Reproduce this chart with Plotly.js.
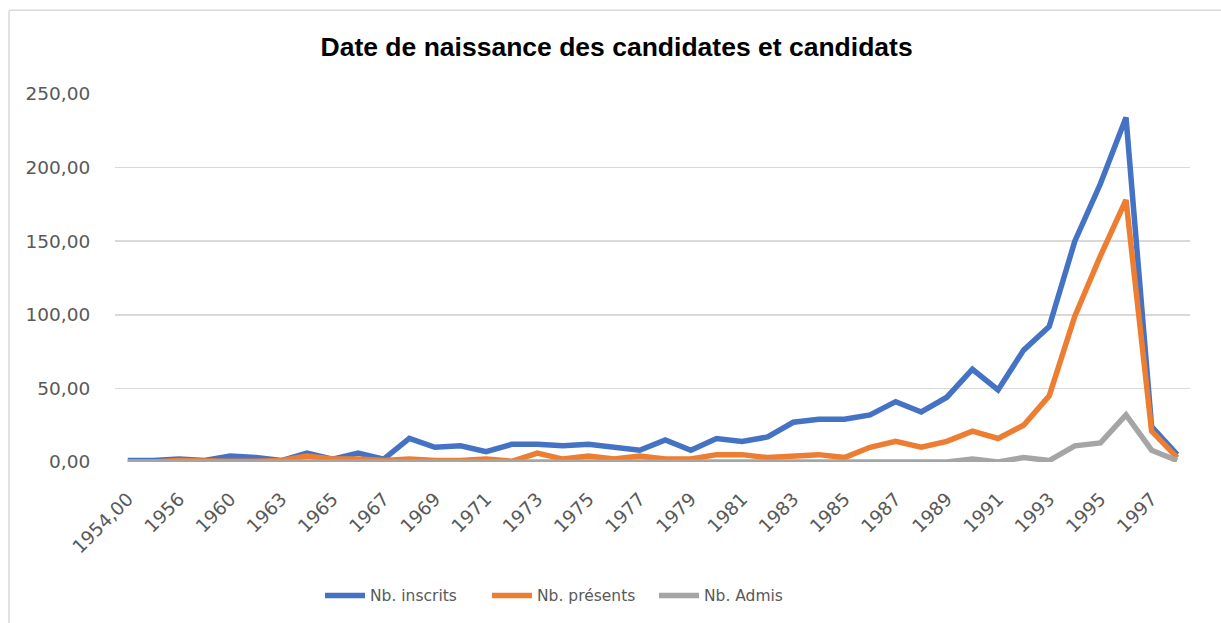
<!DOCTYPE html>
<html>
<head>
<meta charset="utf-8">
<script src="https://cdn.plot.ly/plotly-3.0.1.min.js"></script>
<style>html,body{margin:0;padding:0;background:#fff;}#chart{width:1221px;height:623px;}</style>
</head>
<body>
<div id="chart"></div>
<script>
const categories = ["1954,00","1955","1956","1958","1960","1962","1963","1964","1965","1966","1967","1968","1969","1970","1971","1972","1973","1974","1975","1976","1977","1978","1979","1980","1981","1982","1983","1984","1985","1986","1987","1988","1989","1990","1991","1992","1993","1994","1995","1996","1997","1998"];
const tickLabels = categories.filter((c, i) => i % 2 === 0);
const inscrits = [1,1,2,1,4,3,1,6,2,6,2,16,10,11,7,12,12,11,12,10,8,15,8,16,14,17,27,29,29,32,41,34,44,63,49,76,92,150,189,234,24,5];
const presents = [0,0,1,0.5,0.5,0.5,1,4,2,2,1,2,1,1,2,0.5,6,2,4,2,4,2,2,5,5,3,4,5,3,10,14,10,14,21,16,25,45,99,140,178,21,3];
const admis = [0,0,0,0,0,0,0,0,0,0,0,0,0,0,0,0,0,0,0,0,0,0,0,0.5,0,0,0,0.5,0,0,0,0,0,2,0,3,1,11,13,32,8,1];
const yTickVals = [0,50,100,150,200,250];
const yTickText = ['0,00','50,00','100,00','150,00','200,00','250,00'];

const mk = (name, y, color) => ({
  type: 'scatter', mode: 'lines', name: name, x: categories, y: y,
  line: {color: color, width: 5.5, shape: 'linear'}
});

const data = [
  mk('Nb. inscrits', inscrits, '#4472C4'),
  mk('Nb. présents', presents, '#ED7D31'),
  mk('Nb. Admis', admis, '#A5A5A5')
];

const layout = {
  width: 1221, height: 623,
  margin: {l: 115, r: 31, t: 94, b: 160},
  paper_bgcolor: '#ffffff', plot_bgcolor: '#ffffff',
  font: {family: 'DejaVu Sans, sans-serif', color: '#595959', size: 18},
  title: {text: '<b>Date de naissance des candidates et candidats</b>', x: 0.505, xanchor: 'center', y: 0.925, yanchor: 'middle',
    font: {family: 'Liberation Sans, Arial, sans-serif', size: 26.5, color: '#000000'}},
  xaxis: {
    type: 'category', range: [-0.5, categories.length - 0.5],
    tickmode: 'array', tickvals: tickLabels, ticktext: tickLabels,
    tickangle: -45, showgrid: false, zeroline: false, showline: false,
    ticks: 'outside', ticklen: 18, tickcolor: 'rgba(0,0,0,0)', tickfont: {size: 18.5, color: '#595959'}
  },
  yaxis: {
    range: [0, 250], tickmode: 'array', tickvals: yTickVals, ticktext: yTickText,
    showgrid: true, gridcolor: '#d9d9d9', gridwidth: 1.5, zeroline: false,
    showline: false, ticks: 'outside', ticklen: 20, tickcolor: 'rgba(0,0,0,0)', tickfont: {size: 18.5, color: '#595959'}
  },
  showlegend: true,
  legend: {orientation: 'h', x: 0.1907, xanchor: 'left', y: -0.36, yanchor: 'middle',
    font: {size: 15.5, color: '#595959'}, itemwidth: 40, entrywidth: 112, entrywidthmode: 'pixels', tracegroupgap: 0},
  shapes: [
    {type: 'line', xref: 'paper', yref: 'paper', x0: -0.0986, x1: -0.0986, y0: 1.2276, y1: -0.45, line: {color: '#d9d9d9', width: 1.5}},
    {type: 'line', xref: 'paper', yref: 'paper', x0: -0.0986, x1: 1.05, y0: 1.2276, y1: 1.2276, line: {color: '#d9d9d9', width: 1.5}}
  ]
};

Plotly.newPlot('chart', data, layout, {displayModeBar: false, staticPlot: true});
</script>
</body>
</html>
